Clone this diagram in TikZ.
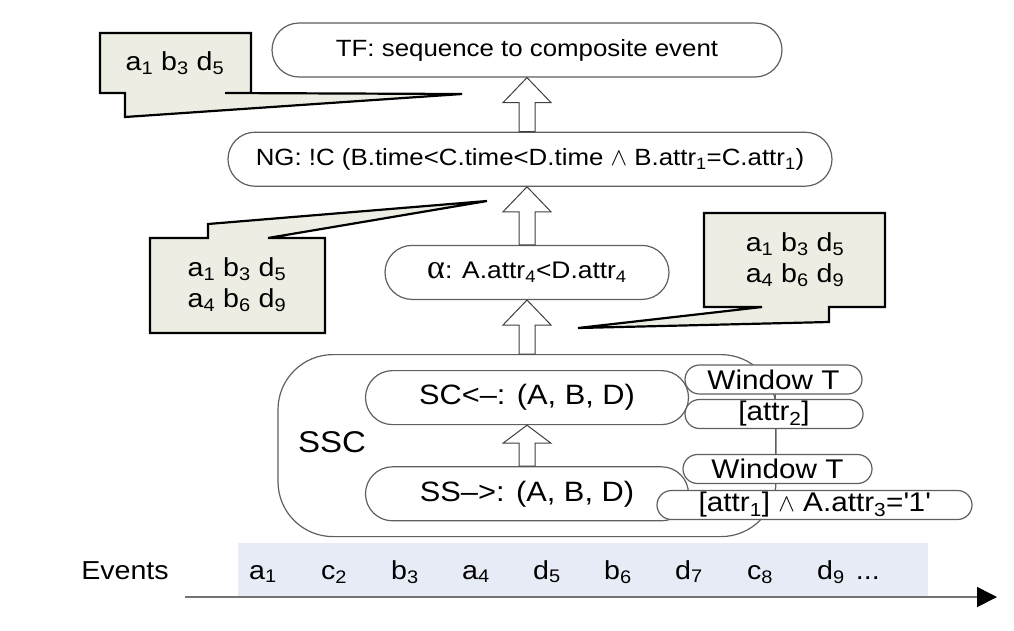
\documentclass[tikz,border=0pt]{standalone}
\usepackage{fontspec}
\setmainfont{Liberation Sans}[FakeStretch=1.1]
\newfontfamily\alfont{Liberation Serif}
\usepackage{tikz}
\usetikzlibrary{calc, arrows.meta, positioning}
\definecolor{pillgray}{RGB}{95,95,95}
\definecolor{notefill}{RGB}{237,237,227}
\definecolor{bandblue}{RGB}{230,235,246}
\newcommand{\sbs}[1]{\textsubscript{#1}}
% hollow up arrow from base point #2 to tip point #3, head length #1
\newcommand{\blockup}[3][25pt]{%
  \draw[blockarrow] let \p1=(#2), \p2=(#3) in
    (\x2-8pt,\y1) -- (\x2-8pt,\y2-#1) -- (\x2-24pt,\y2-#1) -- (\x2,\y2)
    -- (\x2+24pt,\y2-#1) -- (\x2+8pt,\y2-#1) -- (\x2+8pt,\y1) -- cycle;}

\begin{document}
\begin{tikzpicture}[x=1pt, y=-1pt,
        pill/.style = {draw=pillgray, line width=1.2pt, rectangle, fill=white, inner sep=0pt},
        bigpill/.style = {pill, minimum height=54pt, rounded corners=27pt, font=\fontsize{23.5pt}{27pt}\selectfont},
        smallpill/.style = {pill, minimum height=29pt, rounded corners=14.5pt, font=\fontsize{27pt}{29pt}\selectfont},
        note/.style = {draw=black, line width=2.2pt, fill=notefill, line join=miter},
        notetext/.style = {align=center, font=\fontsize{26pt}{31pt}\selectfont},
        blockarrow/.style = {draw=black!75, line width=1pt, fill=white},
        evtext/.style = {anchor=base, font=\fontsize{26pt}{30pt}\selectfont},
        axis/.style = {draw=black!55, line width=1.6pt, -{Triangle[length=20pt, width=20pt, color=black, fill=black]}}
    ]
        \useasboundingbox (0,0) rectangle (1014,630);

        % Operator chain
        \node (tf) [bigpill, minimum width=510pt] at (527,50) {TF: sequence to composite event};
        \node (ng) [bigpill, minimum width=604pt, below=54pt of tf, xshift=3pt] {NG: !C (B.time<C.time<D.time $\wedge$ B.attr\sbs{1}=C.attr\sbs{1})};
        \node (al) [bigpill, minimum width=284pt, below=58pt of ng, xshift=-3pt, font=\fontsize{24pt}{26pt}\selectfont] {{\alfont\fontsize{34pt}{34pt}\selectfont α}: A.attr\sbs{4}<D.attr\sbs{4}};

        % SSC block
        \node (ssc) [pill, fill=none, minimum width=498pt, minimum height=182pt, rounded corners=55pt, below=54pt of al] {};
        \node (ssclab) [font=\fontsize{30pt}{34pt}\selectfont] at (332,442) {SSC};
        \node (sc) [bigpill, minimum width=323pt, below=16pt of ssc.north, font=\fontsize{28pt}{32pt}\selectfont] {SC<–: (A, B, D)};
        \node (ss) [bigpill, minimum width=323pt, below=41pt of sc, font=\fontsize{28pt}{32pt}\selectfont] {SS–>: (A, B, D)};

        % Windows and predicates
        \draw [pillgray, line width=0.8pt] (775,394) -- (775,490);
        \node (wt1) [smallpill, minimum width=177pt] at (773.5,379.5) {Window T};
        \node (at2) [smallpill, minimum width=178pt] at (774,414) {[attr\sbs{2}]};
        \node (wt2) [smallpill, minimum width=189pt] at (777.5,469) {Window T};
        \node (at1) [smallpill, minimum width=315pt] at (814.5,505) {[attr\sbs{1}] $\wedge$ A.attr\sbs{3}=\textquotesingle 1\textquotesingle};

        % Arrows
        \blockup{ng.north -| tf.south}{tf.south}
        \blockup{al.north}{al.north |- ng.south}
        \blockup{ssc.north -| al.south}{al.south}
        \blockup[18pt]{ss.north}{sc.south}

        % Callouts
        \draw [note] (100,33) -- (251,33) -- (251,93) -- (225,93) -- (462,94) -- (125,117) -- (125,93) -- (100,93) -- cycle;
        \node (n1) [notetext] at (175,63) {a\sbs{1} b\sbs{3} d\sbs{5}};
        \draw [note] (150,238) -- (208,238) -- (208,224) -- (487,201) -- (268,238) -- (325,238) -- (325,333) -- (150,333) -- cycle;
        \node (n2) [notetext] at (237,285) {a\sbs{1} b\sbs{3} d\sbs{5}\\a\sbs{4} b\sbs{6} d\sbs{9}};
        \draw [note] (704,213) -- (885,213) -- (885,307) -- (829,307) -- (829,322) -- (578,328) -- (762,307) -- (704,307) -- cycle;
        \node (n3) [notetext] at (795,260) {a\sbs{1} b\sbs{3} d\sbs{5}\\a\sbs{4} b\sbs{6} d\sbs{9}};

        % Event stream
        \node (band) [fill=bandblue, minimum width=690pt, minimum height=54pt, inner sep=0pt] at (583,570) {};
        \node (evlab) [evtext] at (125,579) {Events};
        \foreach \l/\n [count=\i from 0] in {a/1, c/2, b/3, a/4, d/5, b/6, d/7, c/8, d/9}
            \node (ev\n) [evtext] at (263+71*\i,579) {\l\sbs{\n}};
        \node (dots) [evtext, anchor=base west] at ($(ev9.base east)+(4pt,0)$) {...};
        \coordinate (axs) at (185,597);
        \coordinate (axe) at (997,597);
        \draw [axis] (axs) -- (axe);

    \end{tikzpicture}
\end{document}
